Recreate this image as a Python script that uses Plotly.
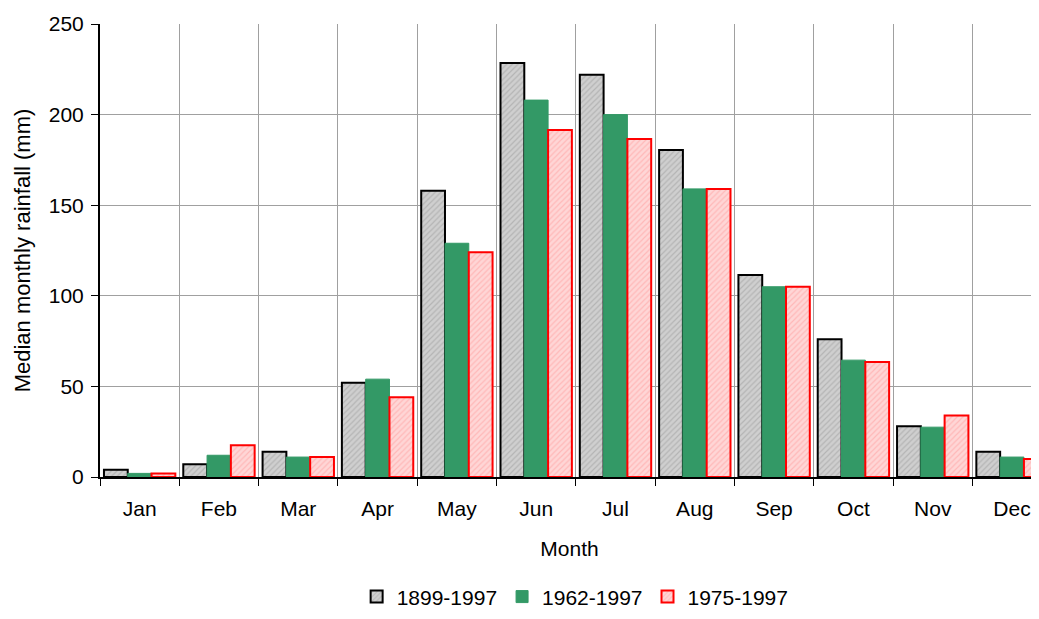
import plotly.graph_objects as go

months = ["Jan", "Feb", "Mar", "Apr", "May", "Jun", "Jul", "Aug", "Sep", "Oct", "Nov", "Dec"]
rain_1899_1997 = [4, 7, 14, 52, 158, 228.5, 222, 180.5, 111.5, 76, 28, 14]
rain_1962_1997 = [2, 12, 11, 54, 129, 208, 200, 159, 105, 64.5, 27.5, 11]
rain_1975_1997 = [2, 17.5, 11, 44, 124, 191.5, 186.5, 159, 105, 63.5, 34, 10]

fig = go.Figure()

fig.add_trace(go.Bar(
    x=months, y=rain_1899_1997, name="1899-1997",
    marker=dict(
        color="#c4c4c4",
        line=dict(color="black", width=2),
        pattern=dict(shape="/", bgcolor="#cfcfcf", fgcolor="#9a9a9a", size=4, solidity=0.3),
    ),
))
fig.add_trace(go.Bar(
    x=months, y=rain_1962_1997, name="1962-1997",
    marker=dict(color="#339966", line=dict(color="#339966", width=1)),
))
fig.add_trace(go.Bar(
    x=months, y=rain_1975_1997, name="1975-1997",
    marker=dict(
        color="#ffcccc",
        line=dict(color="#ff0000", width=2),
        pattern=dict(shape="/", bgcolor="#ffd6d6", fgcolor="#ff9a9a", size=4, solidity=0.3),
    ),
))

# page body has an 8px margin: figure is 8px smaller so nothing overflows;
# plot area runs off the right edge like the original crop
fig.update_layout(
    barmode="group",
    bargap=0.1,
    bargroupgap=0,
    width=1031, height=611,
    paper_bgcolor="white",
    plot_bgcolor="white",
    font=dict(family="Liberation Sans, Arial, sans-serif", size=18, color="black"),
    margin=dict(t=16, b=142, l=92, r=0),
    showlegend=True,
    legend=dict(orientation="h", x=0.506, xanchor="center", y=-0.31, yanchor="bottom",
                font=dict(size=21), itemwidth=30, traceorder="normal"),
)
fig.update_xaxes(
    range=[-0.5, 11.34],
    automargin=False,
    title=dict(text="Month", standoff=22, font=dict(size=21)),
    tickfont=dict(size=21),
    ticklabelstandoff=12,
    showline=True, linecolor="black", linewidth=2,
    ticks="outside", ticklen=7, tickcolor="black", tickson="boundaries",
    showgrid=True, gridcolor="#a0a0a0", gridwidth=1,
)
fig.update_yaxes(
    range=[0, 250], dtick=50,
    title=dict(text="Median monthly rainfall (mm)", standoff=12),
    tickfont=dict(size=21),
    ticklabelstandoff=3,
    showline=True, linecolor="black", linewidth=2,
    ticks="outside", ticklen=7, tickcolor="black",
    showgrid=True, gridcolor="#a0a0a0", gridwidth=1,
    zeroline=False,
)

fig.write_html("out.html")
